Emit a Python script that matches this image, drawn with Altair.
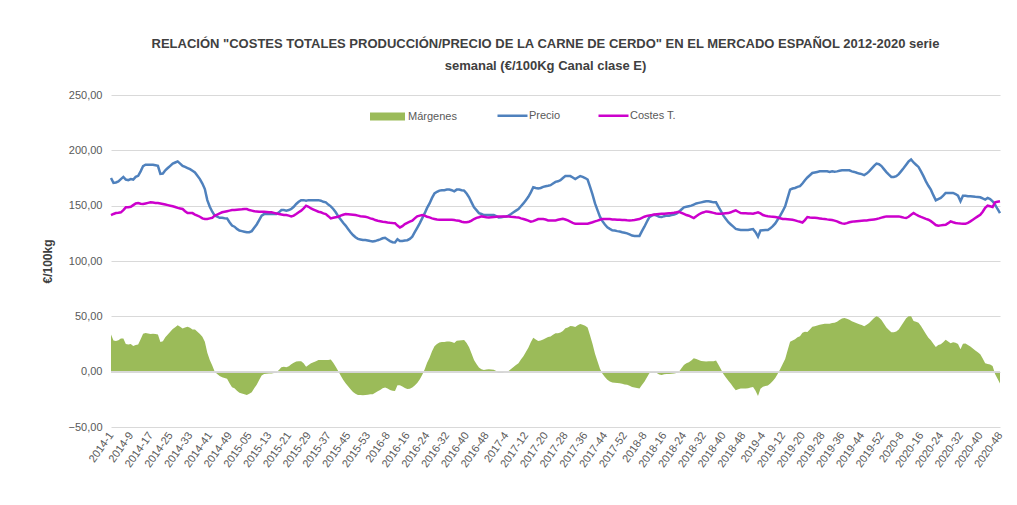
import altair as alt
import pandas as pd

FONT = "Liberation Sans, Arial, sans-serif"

years = [2014, 2015, 2016, 2017, 2018, 2019, 2020]
weeks_per_year = [52, 53, 52, 52, 52, 52, 48]

semanas = []
for yr, n in zip(years, weeks_per_year):
    for w in range(1, n + 1):
        semanas.append(f"{yr}-{w:02d}" if yr == 2015 else f"{yr}-{w}")

tick_labels = [
    "2014-1", "2014-9", "2014-17", "2014-25", "2014-33", "2014-41", "2014-49",
    "2015-05", "2015-13", "2015-21", "2015-29", "2015-37", "2015-45", "2015-53",
    "2016-8", "2016-16", "2016-24", "2016-32", "2016-40", "2016-48",
    "2017-4", "2017-12", "2017-20", "2017-28", "2017-36", "2017-44", "2017-52",
    "2018-8", "2018-16", "2018-24", "2018-32", "2018-40", "2018-48",
    "2019-4", "2019-12", "2019-20", "2019-28", "2019-36", "2019-44", "2019-52",
    "2020-8", "2020-16", "2020-24", "2020-32", "2020-40", "2020-48",
]

precio = [
    175, 170.6, 171, 172, 174, 176, 173.6, 173, 174, 173.6,
    176, 177, 181, 185.8, 187, 187, 187, 187, 186.5, 186,
    178.8, 179, 182, 184, 186, 188, 189, 190, 188, 186,
    185, 184, 183, 181.5, 180, 177, 174, 170, 165, 155,
    149, 144.5, 141, 140, 139, 139, 138.7, 138.5, 135, 132,
    131, 129, 127.5, 127, 126.5, 126, 126, 127, 130, 133,
    137, 141, 142.4, 142.4, 142.4, 142.4, 142.4, 142.4, 144, 146,
    146, 145.5, 146, 147, 149, 151.5, 153.5, 155, 155, 154.5,
    155, 155, 155, 155, 155, 154.5, 153.5, 153, 151, 149.4,
    147, 144, 140.5, 137.5, 134.5, 132, 129, 126, 123.5, 121.5,
    120, 119.5, 119, 119, 118.5, 118, 117.6, 118, 118.8, 119.5,
    120.5, 121, 119.5, 118, 117, 116.7, 119.7, 118, 118, 118.5,
    118.8, 120, 122, 126, 130, 134, 138.5, 143, 148, 152,
    157, 161, 162.5, 163.6, 164, 164, 164.5, 164.5, 164, 163,
    164.5, 164.5, 164, 163.6, 161, 157.6, 153, 148.5, 146, 143.3,
    142.5, 141.5, 141.5, 141.5, 141.5, 141.5, 140.5, 139.4, 139.5, 140,
    140.3, 141, 142.4, 144, 145.5, 147, 149.5, 152, 155, 158,
    162, 166.7, 166, 165.5, 166, 167, 167.6, 168, 168.5, 170,
    171.5, 172, 173, 175, 176.7, 176.7, 176.7, 175.5, 174, 175.5,
    176.7, 176, 175, 173.6, 167, 160, 152, 146, 140, 136,
    133, 130.5, 129, 127.8, 127.5, 127, 126.7, 126, 125.5, 125,
    124, 123, 122.7, 122.7, 122.7, 127, 131, 135.5, 139.7, 141,
    141.8, 141, 140, 139.7, 140.5, 141, 141, 141.5, 142, 142.7,
    144.5, 146.5, 148.5, 149, 149.5, 150, 151, 152, 152.5, 153,
    153.5, 154, 154, 153.5, 153, 153, 149, 145, 141, 138,
    135, 133, 131, 129, 128.5, 128, 128, 128, 128, 128.5,
    128.8, 126, 122, 127.6, 127.8, 128, 128, 129.5, 131.5, 134,
    137.5, 141, 145, 149.4, 157, 164.5, 165.5, 166, 167, 167.6,
    170, 173, 175.5, 177.5, 179.5, 180, 180.5, 181, 181, 181.2,
    181, 180.5, 181, 180.6, 181, 181.5, 182, 182, 182, 182,
    181, 180.5, 179.7, 179, 178.5, 177.6, 179, 181, 183.5, 186,
    188, 187.5, 185.8, 183, 180.3, 178, 176, 176, 176.7, 178.5,
    181.2, 184, 187, 190, 191.8, 189, 187, 185, 181, 176.7,
    172, 168, 164.5, 159.5, 154.8, 156, 157, 159, 161.5, 161.5,
    161.5, 161.5, 160.5, 159, 154, 159, 159, 158.5, 158.5, 158.3,
    158, 157.8, 157.6, 156.5, 155.5, 157, 156, 154, 151, 147, 143.3,
]

costes = [
    141.5, 142.5, 143.3, 143.6, 144, 146, 148.5, 148.5, 149, 150.5,
    152, 152.4, 151.8, 151.5, 152, 152.5, 153, 152.8, 152.5, 152.4,
    152, 151.5, 151, 150.5, 150, 149.5, 148.8, 148, 147.5, 147,
    145, 143.3, 143.3, 143.3, 142, 141, 140, 138.5, 138, 138,
    138.5, 139, 141, 142, 143, 144, 144.5, 145, 145.5, 146,
    146, 146.3, 146.5, 146.7, 147, 147, 146, 145.5, 145, 144.8,
    144.6, 144.5, 144.5, 144.3, 144, 144, 143.5, 143, 142.4, 142,
    141.5, 141.5, 141, 140.3, 141, 142.4, 144, 145.5, 147.5, 150,
    149, 147.5, 146.5, 145.5, 144.5, 144, 143, 142.4, 140.5, 138.5,
    139, 139.5, 140, 141, 141.8, 142.4, 142.2, 142, 141.8, 141.5,
    141, 140.5, 140.3, 140, 139.4, 138.5, 138, 137, 136.4, 136,
    135.5, 135.2, 134.8, 134.5, 134.3, 134.2, 132, 130.3, 131.5, 133.3,
    134.5, 135.5, 136.4, 138.5, 140.3, 141, 141.5, 141, 140, 139.4,
    138.5, 138, 137.5, 137.3, 137.3, 137.3, 137.3, 137.3, 137.3, 137,
    136.5, 136.4, 135.5, 135, 135, 135.5, 136.5, 137.9, 139, 139.5,
    140.3, 140, 139.5, 139.4, 139.6, 139.8, 140, 140.3, 140.3, 140.3,
    140.3, 140.3, 140, 139.8, 139.5, 139.4, 138.5, 138, 137.3, 136.5,
    135.5, 136, 137, 137.9, 137.9, 137.9, 137.5, 136.7, 136.7, 136.7,
    136.7, 137.2, 137.7, 138.2, 137.5, 136.7, 135.5, 134.5, 133.6, 133.6,
    133.6, 133.6, 133.6, 133.6, 134.3, 135, 135.8, 136.5, 137.3, 137.9,
    137.9, 137.9, 137.9, 137.6, 137.5, 137.3, 137.2, 137, 137, 136.8,
    136.7, 136.8, 137, 137.5, 137.9, 139, 140, 140.8, 141.2, 141.5,
    142, 142.3, 142.5, 142.7, 142.8, 143, 143.2, 143.3, 143.6, 144,
    144.5, 143.5, 142.5, 141.5, 140.9, 139.8, 138.8, 140.5, 142, 143.3,
    144, 144.8, 144.5, 144, 143.5, 143, 142.7, 142.8, 143, 143.2,
    143.3, 144, 145, 145.8, 144.5, 143.3, 143.2, 143.1, 143, 142.9,
    142.7, 143.3, 144, 143, 141.5, 140.9, 140.5, 140.2, 140, 139.7,
    139.3, 138.6, 138, 137.9, 137.7, 137.5, 137.3, 136.7, 136, 135.5,
    134.8, 137, 139.7, 139.3, 139, 139, 138.8, 138.5, 138.2, 138,
    137.6, 137.3, 137, 136.5, 135.8, 134.8, 134, 133.6, 134.2, 135,
    135.5, 135.8, 136, 136.2, 136.4, 136.6, 136.7, 137, 137.3, 137.6,
    137.9, 138.5, 139.2, 139.8, 140.3, 140.3, 140.3, 140.3, 140.3, 140.3,
    139.8, 139.2, 138.8, 140, 141.8, 143.3, 142, 140.8, 139.8, 139,
    138, 137.3, 136, 134.3, 132.5, 131.8, 132.2, 132.5, 132.7, 134.2,
    135.8, 135, 134.4, 134, 133.8, 133.7, 133.6, 134.5, 135.8, 137.3,
    138.8, 140.3, 141.8, 144.5, 148, 150, 149.5, 148.8, 153, 153.5, 154,
]

series_names = ["Márgenes", "Precio", "Costes T."]
series_colors = ["#9BBB59", "#4F81BD", "#CC00CC"]

df = pd.DataFrame({"semana": semanas, "Precio": precio, "Costes": costes})

base = alt.Chart(df).transform_calculate(Margen="datum.Precio - datum.Costes")

x_enc = alt.X(
    "semana:O",
    sort=None,
    scale=alt.Scale(type="point", padding=0),
    axis=alt.Axis(
        values=tick_labels,
        labelAngle=-55,
        labelFont=FONT,
        labelFontSize=11,
        labelColor="#595959",
        labelPadding=6,
        ticks=False,
        domain=False,
        grid=False,
        title=None,
    ),
)

y_scale = alt.Scale(domain=[-50, 250], nice=False, zero=False)

area = base.transform_calculate(serie="'" + series_names[0] + "'").mark_area().encode(
    x=x_enc,
    y=alt.Y(
        "Margen:Q",
        scale=y_scale,
        axis=alt.Axis(
            values=[-50, 0, 50, 100, 150, 200, 250],
            labelExpr="replace(format(datum.value, '.2f'), '.', ',')",
            labelFont=FONT,
            labelFontSize=11,
            labelColor="#595959",
            labelPadding=9,
            ticks=False,
            domain=False,
            gridColor="#D9D9D9",
            title="€/100kg",
            titleFont=FONT,
            titleFontSize=12,
            titleFontWeight="bold",
            titleColor="#404040",
            titlePadding=14,
        ),
    ),
    fill=alt.Fill(
        "serie:N",
        scale=alt.Scale(domain=[series_names[0]], range=[series_colors[0]]),
        legend=alt.Legend(
            title=None,
            orient="none",
            legendX=259,
            legendY=4,
            symbolType="M-1,-0.23H1V0.23H-1Z",
            symbolSize=1225,
            symbolStrokeWidth=0,
            labelOffset=3,
            labelFont=FONT,
            labelFontSize=11,
            labelColor="#595959",
        ),
    ),
)

zero_rule = base.mark_rule(color="#D9D9D9", strokeWidth=1).encode(y=alt.Y(datum=0))

stroke_scale = alt.Scale(domain=series_names[1:], range=series_colors[1:])

line_precio = base.transform_calculate(serie="'" + series_names[1] + "'").mark_line(strokeWidth=2.5).encode(
    x=x_enc,
    y=alt.Y("Precio:Q", scale=y_scale),
    stroke=alt.Stroke(
        "serie:N",
        scale=stroke_scale,
        legend=alt.Legend(
            title=None,
            orient="none",
            direction="horizontal",
            legendX=385,
            legendY=4,
            columnPadding=32,
            symbolType="stroke",
            symbolSize=900,
            symbolStrokeWidth=2.5,
            labelOffset=0,
            labelFont=FONT,
            labelFontSize=11,
            labelColor="#595959",
        ),
    ),
)

line_costes = base.transform_calculate(serie="'" + series_names[2] + "'").mark_line(strokeWidth=2.5).encode(
    x=x_enc,
    y=alt.Y("Costes:Q", scale=y_scale),
    stroke=alt.Stroke("serie:N", scale=stroke_scale),
)

chart = (
    alt.layer(area, zero_rule, line_precio, line_costes)
    .properties(
        width=889,
        height=332,
        autosize=alt.AutoSizeParams(type="none"),
        padding={"left": 103, "top": 87, "right": 9, "bottom": 70},
        background="white",
        title=alt.TitleParams(
            text=[
                'RELACIÓN "COSTES TOTALES PRODUCCIÓN/PRECIO DE LA CARNE DE CERDO" EN EL MERCADO ESPAÑOL 2012-2020 serie',
                "semanal (€/100Kg Canal clase E)",
            ],
            font=FONT,
            fontSize=13,
            fontWeight="bold",
            color="#404040",
            anchor="middle",
            dx=-10,
            lineHeight=22,
            offset=16,
        ),
    )
    .configure_view(stroke=None)
)

chart.save("out.html", embed_options={"renderer": "svg", "actions": False})
